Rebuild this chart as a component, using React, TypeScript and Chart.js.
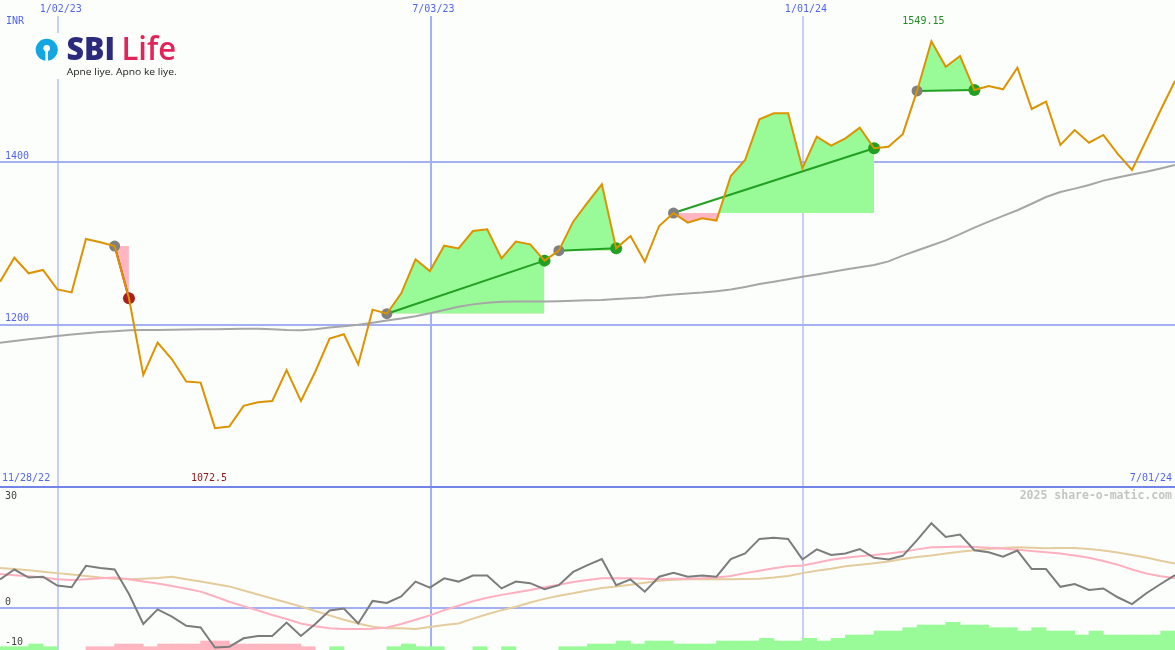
import React, { useEffect, useRef } from 'react';
import { Chart, registerables } from 'chart.js';

Chart.register(...registerables);

// ---------- data (weekly, index 0 = first week shown) ----------
const closePrices = [
  1253, 1282.5, 1263.3, 1267.4, 1243.5, 1239.8, 1305.6, 1301.5, 1296.9, 1232.5,
  1138, 1177.9, 1157.3, 1129.9, 1128.6, 1072.5, 1074.5, 1100, 1104.3, 1106,
  1144, 1106, 1142, 1182.8, 1188.1, 1151, 1218.5, 1213.5, 1238.6, 1280.5,
  1266, 1297.3, 1294, 1315.4, 1317.4, 1281.7, 1302.3, 1299, 1278.9, 1291.2,
  1326.9, 1350.3, 1372.9, 1294, 1309.2, 1277.6, 1321.6, 1337.5, 1325.7, 1331,
  1328.2, 1383.2, 1402.9, 1453, 1460.4, 1460.4, 1392.6, 1431.6, 1420.5, 1429.6,
  1442.7, 1417.3, 1419.3, 1434.7, 1488, 1549.15, 1517.8, 1531, 1489.1, 1494,
  1490, 1516.6, 1465.7, 1474.7, 1421.4, 1439.8, 1424.2, 1433.7, 1410.3, 1390.6,
  1427.5, 1464.5, 1500.2,
];

const longAverage = [
  1177.7, 1180, 1182, 1184, 1186, 1188, 1189.5, 1191, 1192, 1193,
  1193.3, 1193.5, 1193.8, 1194, 1194.2, 1194.4, 1194.7, 1195, 1195, 1194.5,
  1193.5, 1193, 1194.5, 1196.5, 1198, 1200, 1202.5, 1205, 1207.5, 1210.5,
  1214, 1218, 1222, 1225, 1227, 1228.2, 1228.4, 1228.5, 1228.6, 1229,
  1229.4, 1230, 1230.5, 1231.5, 1232.5, 1233.5, 1235.5, 1237.2, 1238.3, 1239.5,
  1241.3, 1243.2, 1246.5, 1250, 1253, 1256, 1259, 1261.8, 1264.8, 1268,
  1270.8, 1273.6, 1278, 1285, 1291.3, 1297.5, 1303.8, 1311.5, 1319.5, 1327,
  1334, 1341, 1349, 1357.3, 1363.5, 1367.6, 1372, 1377.5, 1381.3, 1385,
  1388.4, 1392.5, 1396.7,
];

const oscillator = [
  7.05, 9.5, 7.5, 7.7, 5.5, 5.1, 10.4, 9.9, 9.5, 3.4,
  -4.05, -0.4, -2.2, -4.5, -4.9, -9.9, -9.7, -7.6, -7, -7,
  -3.7, -7, -4.05, -0.7, -0.2, -3.9, 1.7, 1.2, 2.8, 6.5,
  5, 7.3, 6.5, 8, 8, 4.8, 6.5, 6.1, 4.6, 5.6,
  8.9, 10.6, 12.1, 5.6, 7.05, 4, 7.7, 8.7, 7.7, 8,
  7.7, 12.1, 13.5, 17.1, 17.4, 17.1, 12, 14.5, 13.1, 13.5,
  14.6, 12.4, 12, 12.9, 16.8, 21, 17.6, 18.2, 14.3, 13.8,
  12.7, 14.2, 9.6, 9.6, 5.2, 5.9, 4.4, 4.8, 2.6, 0.9,
  3.6, 5.9, 8.1,
];

const oscSignal = [
  8.4, 8.1, 7.8, 7.5, 7.1, 6.9, 7.1, 7.3, 7.5, 7.1,
  6.5, 6, 5.4, 4.7, 4, 2.8, 1.5, 0.4, -0.7, -1.8,
  -2.8, -3.9, -4.6, -5.1, -5.3, -5.3, -5.2, -4.9, -4.05, -3,
  -1.9, -0.6, 0.5, 1.6, 2.5, 3.2, 3.8, 4.4, 5.1, 5.7,
  6.4, 6.9, 7.3, 7.3, 7.3, 7.2, 7.1, 7.2, 7.2, 7.3,
  7.5, 7.9, 8.6, 9.2, 9.8, 10.3, 10.5, 11.2, 11.9, 12.4,
  12.8, 13.1, 13.5, 13.9, 14.5, 15, 15.1, 15.2, 15.1, 14.9,
  14.7, 14.4, 14.1, 13.8, 13.5, 13, 12.4, 11.6, 10.7, 9.5,
  8.5, 7.8, 7.3,
];

const oscSlow = [
  9.9, 9.6, 9.3, 8.95, 8.6, 8.25, 7.9, 7.5, 7.2, 7.05,
  7.2, 7.4, 7.7, 7.1, 6.5, 5.9, 5.3, 4.3, 3.3, 2.3,
  1.3, 0.3, -0.8, -1.9, -3, -3.9, -4.7, -5.1, -5.1, -5.3,
  -4.8, -4.3, -3.9, -2.7, -1.6, -0.6, 0.25, 1.3, 2.2, 3,
  3.6, 4.3, 4.9, 5.3, 5.7, 6.2, 6.7, 6.95, 7.05, 7.1,
  7.1, 7.1, 7.15, 7.2, 7.5, 7.9, 8.6, 9.2, 9.7, 10.3,
  10.7, 11.05, 11.5, 12.1, 12.6, 13, 13.5, 13.9, 14.3, 14.6,
  14.85, 15, 14.9, 14.8, 14.85, 14.85, 14.6, 14.2, 13.7, 13.1,
  12.5, 11.7, 11,
];

// histogram per week interval (positive = green, negative = pink)
const histogram = [
  0.33, 0.33, 0.6, 0.33, 0, 0, -0.33, -0.33, -0.6, -0.6,
  -0.33, -0.6, -0.6, -0.6, -0.9, -0.9, -0.6, -0.6, -0.6, -0.6,
  -0.6, -0.33, 0, 0.33, 0, 0, 0, 0.33, 0.6, 0.33,
  0.33, 0, 0, 0.33, 0, 0.33, 0, 0, 0, 0.33,
  0.33, 0.6, 0.6, 0.9, 0.6, 0.9, 0.9, 0.6, 0.6, 0.6,
  0.9, 0.9, 0.9, 1.17, 0.9, 0.9, 1.17, 0.9, 1.17, 1.5,
  1.5, 1.9, 1.9, 2.23, 2.5, 2.5, 2.77, 2.5, 2.5, 2.23,
  2.23, 1.9, 2.23, 1.9, 1.9, 1.5, 1.9, 1.5, 1.5, 1.5,
  1.5, 1.9,
];

const tradeEntries = [8, 27, 39, 47, 64];
const tradeExits = [9, 38, 43, 61, 68];

const dateGridWeeks = [4.07, 30.07, 56.07];
const dateGridLabels = ['1/02/23', '7/03/23', '1/01/24'];
const priceGridValues = [1400, 1200];
const oscGridValues = [0];
const oscTickValues = [30, 0, -10];
const firstDateLabel = '11/28/22';
const lastDateLabel = '7/01/24';
const currencyLabel = 'INR';
const watermark = '2025 share-o-matic.com';

// ---------- styles ----------
const W = 1175;
const H = 650;
const BG = '#fcfefc';
const BLUE_TEXT = '#5466e8';
const GRID = '#a3b0f2';
const DIVIDER = '#7384e8';
const PRICE = '#db9300';
const MA = '#a6a6a6';
const FILL_GREEN = '#98fb98';
const FILL_PINK = '#ffb6c1';
const TRADE_GREEN = '#22a022';
const TRADE_RED = '#a82020';
const DOT_GRAY = '#808080';
const OSC = '#7c7c7c';
const SIGNAL = '#ffb0c0';
const SLOW = '#e4cc9c';
const MONO = '"DejaVu Sans Mono", monospace';

export default function App() {
  const ref = useRef<HTMLCanvasElement>(null);

  useEffect(() => {
    const canvas = ref.current;
    if (!canvas) return;
    const weeks = closePrices.map((_, i) => i);
    const pts = (vals: number[]) => vals.map((v, i) => ({ x: weeks[i], y: v }));

    const datasets: any[] = [];

    datasets.push({
      label: 'close', data: pts(closePrices), borderColor: PRICE, borderWidth: 2,
      pointRadius: 0, tension: 0, yAxisID: 'y', order: 1, fill: false,
    });

    datasets.push({
      label: 'entries', data: tradeEntries.map((k) => ({ x: weeks[k], y: closePrices[k] })),
      showLine: false, pointRadius: 5.5, pointBackgroundColor: DOT_GRAY, pointBorderWidth: 0,
      yAxisID: 'y', order: 2,
    });
    datasets.push({
      label: 'exits', data: tradeExits.map((k) => ({ x: weeks[k], y: closePrices[k] })),
      showLine: false, pointRadius: 6,
      pointBackgroundColor: tradeExits.map((k, i) => (closePrices[k] >= closePrices[tradeEntries[i]] ? TRADE_GREEN : TRADE_RED)),
      pointBorderWidth: 0, yAxisID: 'y', order: 2,
    });

    tradeEntries.forEach((e, i) => {
      const x = tradeExits[i];
      const win = closePrices[x] >= closePrices[e];
      datasets.push({
        label: 'trade' + i,
        data: [{ x: weeks[e], y: closePrices[e] }, { x: weeks[x], y: closePrices[x] }],
        borderColor: win ? TRADE_GREEN : TRADE_RED, borderWidth: 2, pointRadius: 0,
        yAxisID: 'y', order: 3, fill: false,
      });
      datasets.push({
        label: 'fill' + i,
        data: closePrices.slice(e, x + 1).map((v, j) => ({ x: weeks[e + j], y: v })),
        borderWidth: 0, borderColor: 'rgba(0,0,0,0)', pointRadius: 0, yAxisID: 'y', order: 6,
        fill: { target: { value: closePrices[e] }, above: FILL_GREEN, below: FILL_PINK },
      });
    });

    datasets.push({
      label: 'ma', data: pts(longAverage), borderColor: MA, borderWidth: 2, pointRadius: 0,
      yAxisID: 'y', order: 5, fill: false,
    });

    datasets.push({
      label: 'osc', data: pts(oscillator), borderColor: OSC, borderWidth: 2, pointRadius: 0,
      yAxisID: 'y2', order: 7, fill: false,
    });
    datasets.push({
      label: 'signal', data: pts(oscSignal), borderColor: SIGNAL, borderWidth: 2, pointRadius: 0,
      yAxisID: 'y2', order: 8, fill: false,
    });
    datasets.push({
      label: 'slow', data: pts(oscSlow), borderColor: SLOW, borderWidth: 2, pointRadius: 0,
      yAxisID: 'y2', order: 9, fill: false,
    });
    datasets.push({
      type: 'bar', label: 'hist',
      data: histogram.map((v, i) => ({ x: weeks[i] + 0.5, y: v === 0 ? null : Math.abs(v) })),
      backgroundColor: histogram.map((v) => (v >= 0 ? FILL_GREEN : FILL_PINK)),
      borderWidth: 0, barPercentage: 1, categoryPercentage: 1, grouped: false,
      yAxisID: 'yh', order: 10,
    });

    const line = (ctx: CanvasRenderingContext2D, x1: number, y1: number, x2: number, y2: number) => {
      ctx.beginPath(); ctx.moveTo(x1, y1); ctx.lineTo(x2, y2); ctx.stroke();
    };
    const text = (ctx: CanvasRenderingContext2D, s: string, x: number, y: number, color: string,
      align: CanvasTextAlign = 'left', font = `10px ${MONO}`) => {
      ctx.font = font; ctx.fillStyle = color; ctx.textAlign = align; ctx.textBaseline = 'middle';
      ctx.fillText(s, x, y);
    };
    const fitText = (ctx: CanvasRenderingContext2D, s: string, x: number, base: number, width: number, font: string, fill: any) => {
      ctx.save();
      ctx.font = font; ctx.textAlign = 'left'; ctx.textBaseline = 'alphabetic';
      const w = ctx.measureText(s).width;
      ctx.translate(x, base); ctx.scale(width / w, 1);
      ctx.fillStyle = fill;
      ctx.fillText(s, 0, 0);
      ctx.restore();
    };

    const decor = {
      id: 'decor',
      beforeDraw(chart: any) {
        const { ctx } = chart;
        ctx.save(); ctx.fillStyle = BG; ctx.fillRect(0, 0, chart.width, chart.height); ctx.restore();
      },
      beforeDatasetsDraw(chart: any) {
        const { ctx, scales } = chart;
        const { x, y, y2 } = scales;
        ctx.save();
        ctx.strokeStyle = GRID; ctx.lineWidth = 2;
        priceGridValues.forEach((v) => { const p = Math.round(y.getPixelForValue(v)); line(ctx, 0, p, W, p); });
        oscGridValues.forEach((v) => { const p = Math.round(y2.getPixelForValue(v)); line(ctx, 0, p, W, p); });
        dateGridWeeks.forEach((wk, i) => {
          const p = Math.round(x.getPixelForValue(wk));
          ctx.lineWidth = i === 1 ? 2 : 1.2;
          line(ctx, p, 16, p, H);
        });
        ctx.strokeStyle = DIVIDER; ctx.lineWidth = 2;
        const d = Math.round(y.bottom);
        line(ctx, 0, d, W, d);
        ctx.restore();
      },
      afterDatasetsDraw(chart: any) {
        const { ctx, scales } = chart;
        const { x, y, y2 } = scales;
        ctx.save();
        // date labels on top
        dateGridWeeks.forEach((wk, i) => text(ctx, dateGridLabels[i], x.getPixelForValue(wk) + 2.5, 9, BLUE_TEXT, 'center'));
        text(ctx, currencyLabel, 6, 21.5, BLUE_TEXT);
        priceGridValues.forEach((v) => text(ctx, String(v), 5, y.getPixelForValue(v) - 6, BLUE_TEXT));
        // extremes
        const maxV = Math.max(...closePrices);
        const minV = Math.min(...closePrices);
        const kMax = closePrices.indexOf(maxV);
        const kMin = closePrices.indexOf(minV);
        text(ctx, String(maxV), x.getPixelForValue(kMax) - 8, 21, '#228b22', 'center');
        const bottomY = y.bottom - 8.5;
        text(ctx, String(minV), x.getPixelForValue(kMin) - 6, bottomY, '#8b1a1a', 'center');
        text(ctx, firstDateLabel, 2, bottomY, BLUE_TEXT);
        text(ctx, lastDateLabel, 1172, bottomY, BLUE_TEXT, 'right');
        // oscillator labels
        oscTickValues.forEach((v) => {
          const p = y2.getPixelForValue(v);
          const ty = v === 30 ? p + 9 : p - 5.5;
          text(ctx, String(v), 5, ty, '#444444');
        });
        text(ctx, watermark, 1172, 496, '#c4c4c4', 'right', `bold 11.5px ${MONO}`);

        // logo
        ctx.fillStyle = BG; ctx.fillRect(34, 33, 150, 46);
        ctx.fillStyle = '#12a6e2';
        ctx.beginPath(); ctx.arc(46.7, 49.8, 11, 0, Math.PI * 2); ctx.fill();
        ctx.fillStyle = BG;
        ctx.beginPath(); ctx.arc(46.7, 48.3, 3.3, 0, Math.PI * 2); ctx.fill();
        ctx.fillRect(45.4, 48.5, 2.6, 13);
        fitText(ctx, 'SBI', 66.5, 60, 48.5, '800 32px "Open Sans", sans-serif', '#2c2a7c');
        const g = ctx.createLinearGradient(121, 0, 177, 0);
        g.addColorStop(0, '#e3245a');
        g.addColorStop(0.45, '#d42660');
        g.addColorStop(1, '#7b2c74');
        fitText(ctx, 'Life', 121.5, 60, 54.5, '600 32px "Open Sans", sans-serif', g);
        fitText(ctx, 'Apne liye. Apno ke liye.', 66.7, 74.5, 110, '9px "Open Sans", sans-serif', '#222222');
        ctx.restore();
      },
    };

    const chart = new Chart(canvas, {
      type: 'line',
      data: { datasets },
      options: {
        responsive: false,
        animation: false,
        devicePixelRatio: 1,
        events: [],
        layout: { padding: 0, autoPadding: false },
        plugins: { legend: { display: false }, tooltip: { enabled: false }, title: { display: false } },
        scales: {
          x: { type: 'linear', min: 0, max: 82, display: false, offset: false, grid: { offset: false } },
          y: { type: 'linear', min: 1000, max: 1600, display: false, position: 'left', stack: 'panels', stackWeight: 487, weight: 3 },
          y2: { type: 'linear', min: -10.5, max: 30, display: false, position: 'left', stack: 'panels', stackWeight: 163, weight: 2 },
          yh: { type: 'linear', min: 0, max: 65, display: false, position: 'left', weight: 1 },
        },
      } as any,
      plugins: [decor],
    } as any);

    return () => chart.destroy();
  }, []);

  return (
    <div style={{ position: 'absolute', left: 0, top: 0, width: W, height: H, background: BG }}>
      <canvas ref={ref} width={W} height={H} style={{ display: 'block', width: W, height: H }} />
    </div>
  );
}
